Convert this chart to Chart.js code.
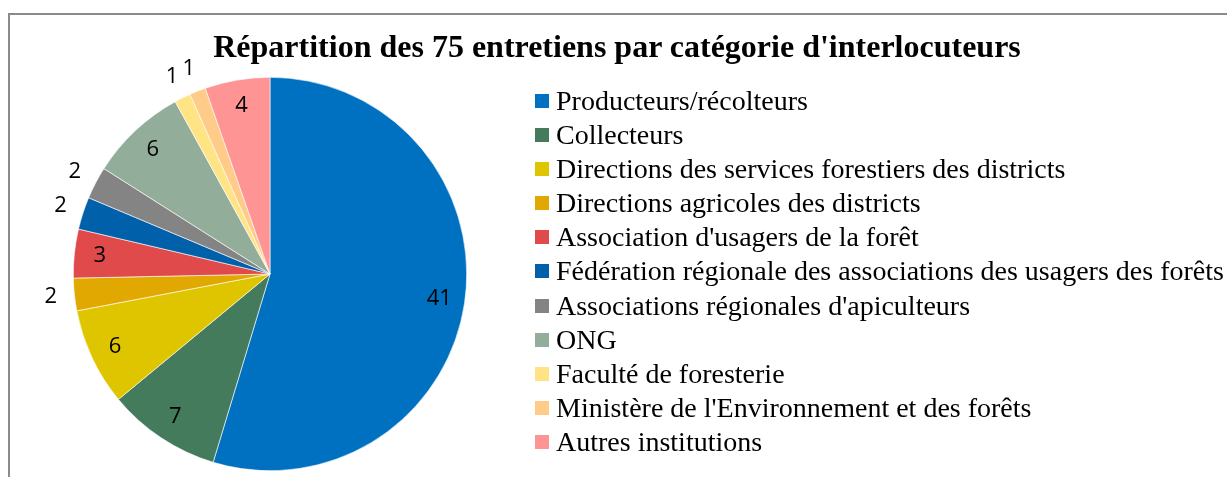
<!DOCTYPE html>
<html>
<head>
<meta charset="utf-8">
<script src="https://cdn.jsdelivr.net/npm/chart.js@4"></script>
<style>
  body { margin: 0; background: #fff; }
  #wrap { position: relative; width: 1227px; height: 477px; overflow: hidden; }
  #frame { position: absolute; left: 8px; top: 13px; width: 1240px; height: 500px;
           border-left: 2px solid #8a8a8a; border-top: 2px solid #8a8a8a; }
  #chart { position: absolute; left: 0; top: 0; }
  #title { position: absolute; left: 0; top: 30px; width: 1234px; text-align: center;
           font: bold 32px/32px "Liberation Serif", "Times New Roman", serif; color: #000; white-space: nowrap; }
  #legend { position: absolute; left: 535px; top: 86px; margin: 0; padding: 0; list-style: none;
            font-family: "Liberation Serif", "Times New Roman", serif; font-size: 28px; color: #000; }
  #legend li { height: 34.1px; line-height: 30px; white-space: nowrap; }
  #legend span { display: inline-block; width: 14px; height: 14px; margin-right: 7px; vertical-align: 2px; }
</style>
</head>
<body>
<div id="wrap">
  <div id="frame"></div>
  <canvas id="chart" width="1227" height="477"></canvas>
  <div id="title"></div>
  <ul id="legend"></ul>
</div>
<script>
const chartTitle = "Répartition des 75 entretiens par catégorie d'interlocuteurs"
const categories = [
  'Producteurs/récolteurs',
  'Collecteurs',
  'Directions des services forestiers des districts',
  'Directions agricoles des districts',
  "Association d'usagers de la forêt",
  'Fédération régionale des associations des usagers des forêts',
  "Associations régionales d'apiculteurs",
  'ONG',
  'Faculté de foresterie',
  "Ministère de l'Environnement et des forêts",
  'Autres institutions'
]
const interviews = [41, 7, 6, 2, 3, 2, 2, 6, 1, 1, 4]
const colors = ['#0070c0', '#437b5c', '#dfc500', '#e0a800', '#e04a4b', '#0060aa',
                '#848484', '#93ad9b', '#fee485', '#fecb88', '#fe9494']

document.getElementById('title').textContent = chartTitle

const legend = document.getElementById('legend')
categories.forEach((name, i) => {
    const li = document.createElement('li')
    const box = document.createElement('span')
    box.style.background = colors[i]
    li.appendChild(box)
    li.appendChild(document.createTextNode(name))
    legend.appendChild(li)
})

// numbers on the slices: small ones sit just outside the pie
const sliceLabels = {
    id: 'sliceLabels',
    afterDatasetsDraw(chart) {
        const ctx = chart.ctx
        const meta = chart.getDatasetMeta(0)
        ctx.save()
        ctx.font = '22px "Open Sans", sans-serif'
        ctx.fillStyle = '#000'
        ctx.textAlign = 'center'
        ctx.textBaseline = 'middle'
        meta.data.forEach((arc, i) => {
            const p = arc.getProps(['x', 'y', 'startAngle', 'endAngle', 'outerRadius'], true)
            const mid = (p.startAngle + p.endAngle) / 2
            const value = interviews[i]
            const r = value <= 2 ? p.outerRadius * 1.12 : p.outerRadius * 0.87
            ctx.fillText(String(value), p.x + Math.cos(mid) * r, p.y + Math.sin(mid) * r)
        })
        ctx.restore()
    }
}

new Chart(document.getElementById('chart'), {
    type: 'pie',
    data: {
        labels: categories,
        datasets: [{
            data: interviews,
            backgroundColor: colors,
            borderColor: '#ffffff',
            borderWidth: 0.6
        }]
    },
    options: {
        responsive: false,
        animation: false,
        layout: { padding: { left: 73, right: 760, top: 77, bottom: 6 } },
        plugins: {
            legend: { display: false },
            tooltip: { enabled: false },
            title: { display: false }
        }
    },
    plugins: [sliceLabels]
})
</script>
</body>
</html>
